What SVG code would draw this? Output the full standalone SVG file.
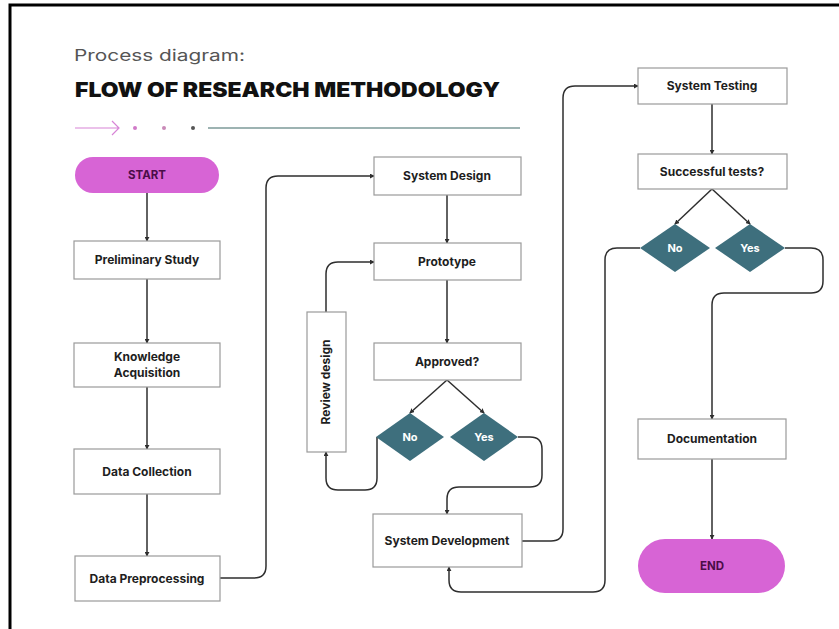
<svg xmlns="http://www.w3.org/2000/svg" width="839" height="629" viewBox="0 0 839 629">
<defs>
<style>
.box{fill:#ffffff;stroke:#9a9a9a;stroke-width:1.2}
.pill{fill:#d764d5}
.dia{fill:#3e6f7d}
.t{font-family:Inter,"Liberation Sans",sans-serif;font-weight:700;font-size:12px;fill:#1e1e1e;text-anchor:middle}
.tw{font-family:Inter,"Liberation Sans",sans-serif;font-weight:700;font-size:11px;fill:#ffffff;text-anchor:middle}
.tp{font-family:Inter,"Liberation Sans",sans-serif;font-weight:700;font-size:11.5px;fill:#4a0d48;text-anchor:middle}
.c{fill:none;stroke:#2e2e2e;stroke-width:1.5;marker-end:url(#ah)}
</style>
<marker id="ah" viewBox="0 0 6 6" refX="5" refY="3" markerWidth="5" markerHeight="5" orient="auto" markerUnits="userSpaceOnUse">
<path d="M0,0 L6,3 L0,6 Z" fill="#2e2e2e"/>
</marker>
</defs>
<rect width="839" height="629" fill="#ffffff"/>
<g id="frame" fill="none" stroke="#000000" stroke-width="3">
<path d="M10,629 V5 H839"/>
</g>
<g id="header">
<text x="74" y="61" font-family="Inter,'Liberation Sans',sans-serif" font-size="16" fill="#555555" textLength="171" lengthAdjust="spacingAndGlyphs">Process diagram:</text>
<text x="75" y="97" font-family="Inter,'Liberation Sans',sans-serif" font-weight="900" font-size="20" fill="#111111" textLength="425" lengthAdjust="spacingAndGlyphs">FLOW OF RESEARCH METHODOLOGY</text>
<path d="M75,128 H118 M112,121 L119,128 L112,135" fill="none" stroke="#d784d6" stroke-width="1.2"/>
<circle cx="135" cy="128" r="2" fill="#d07ac8"/>
<circle cx="164" cy="128" r="2" fill="#c98ab8"/>
<circle cx="193" cy="128" r="2" fill="#555555"/>
<path d="M208,128 H520" stroke="#7d9a98" stroke-width="1.5"/>
</g>
<g id="connectors">
<path class="c" d="M147,193 V241"/>
<path class="c" d="M147,279 V343"/>
<path class="c" d="M147,387 V449"/>
<path class="c" d="M147,494 V556"/>
<path class="c" d="M220,578 H254 Q266,578 266,566 V188 Q266,176 278,176 H374"/>
<path class="c" d="M447,195 V243"/>
<path class="c" d="M447,280 V343"/>
<path class="c" d="M447,380 L410,413"/>
<path class="c" d="M447,380 L484,413"/>
<path class="c" d="M377,437 V478 Q377,490 365,490 H338 Q326,490 326,478 V452"/>
<path class="c" d="M326,312 V274 Q326,262 338,262 H374"/>
<path class="c" d="M518,437 H530 Q542,437 542,449 V475 Q542,487 530,487 H459 Q447,487 447,499 V514"/>
<path class="c" d="M522,541 H551 Q563,541 563,529 V98 Q563,86 575,86 H638"/>
<path class="c" d="M712,104 V154"/>
<path class="c" d="M712,189 L675,224"/>
<path class="c" d="M712,189 L750,224"/>
<path class="c" d="M640,248 H617 Q605,248 605,260 V580 Q605,592 593,592 H461 Q449,592 449,580 V567"/>
<path class="c" d="M785,248 H811 Q823,248 823,260 V281 Q823,293 811,293 H724 Q712,293 712,305 V419"/>
<path class="c" d="M712,459 V539"/>
</g>
<g id="start"><rect class="pill" x="75" y="157" width="144" height="36" rx="18"/><text class="tp" x="147" y="179">START</text></g>
<g id="preliminary"><rect class="box" x="74" y="241" width="146" height="38"/><text class="t" x="147" y="264">Preliminary Study</text></g>
<g id="knowledge"><rect class="box" x="74" y="343" width="146" height="44"/><text class="t" x="147" y="361">Knowledge</text><text class="t" x="147" y="377">Acquisition</text></g>
<g id="datacollection"><rect class="box" x="74" y="449" width="146" height="45"/><text class="t" x="147" y="476">Data Collection</text></g>
<g id="datapreprocessing"><rect class="box" x="75" y="556" width="145" height="45"/><text class="t" x="147" y="583">Data Preprocessing</text></g>
<g id="systemdesign"><rect class="box" x="374" y="157" width="147" height="38"/><text class="t" x="447" y="180">System Design</text></g>
<g id="prototype"><rect class="box" x="374" y="243" width="147" height="37"/><text class="t" x="447" y="266">Prototype</text></g>
<g id="approved"><rect class="box" x="374" y="343" width="147" height="37"/><text class="t" x="447" y="366">Approved?</text></g>
<g id="no1"><polygon class="dia" points="376,437 410,413 444,437 410,461"/><text class="tw" x="410" y="441">No</text></g>
<g id="yes1"><polygon class="dia" points="450,437 484,413 518,437 484,461"/><text class="tw" x="484" y="441">Yes</text></g>
<g id="review"><rect class="box" x="307" y="312" width="39" height="140"/><text class="t" transform="translate(330,382) rotate(-90)" x="0" y="0">Review design</text></g>
<g id="systemdevelopment"><rect class="box" x="373" y="514" width="149" height="53"/><text class="t" x="447" y="545">System Development</text></g>
<g id="systemtesting"><rect class="box" x="638" y="68" width="149" height="36"/><text class="t" x="712" y="90">System Testing</text></g>
<g id="successful"><rect class="box" x="638" y="154" width="149" height="35"/><text class="t" x="712" y="176">Successful tests?</text></g>
<g id="no2"><polygon class="dia" points="640,248 675,224 710,248 675,272"/><text class="tw" x="675" y="252">No</text></g>
<g id="yes2"><polygon class="dia" points="715,248 750,224 785,248 750,272"/><text class="tw" x="750" y="252">Yes</text></g>
<g id="documentation"><rect class="box" x="638" y="419" width="148" height="40"/><text class="t" x="712" y="443">Documentation</text></g>
<g id="end"><rect class="pill" x="638" y="539" width="147" height="54" rx="27"/><text class="tp" x="712" y="570">END</text></g>
</svg>
